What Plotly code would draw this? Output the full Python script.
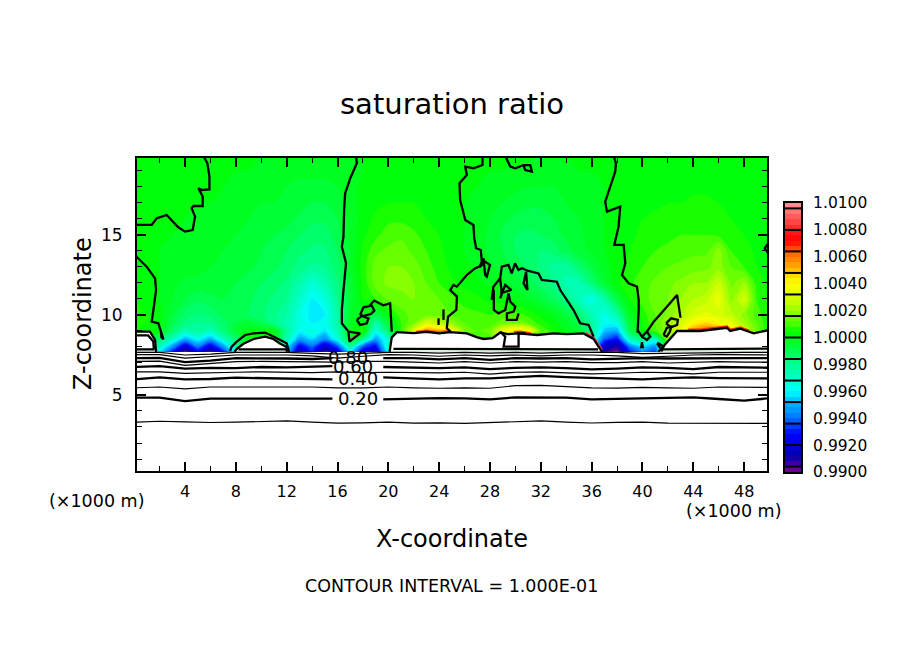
import plotly.graph_objects as go

W, H = 904, 654
# ---------- field: saturation ratio, rows in units of 1e-4 about 1.0 ----------
grid_x = list(range(51))
grid_z = [7.7, 8, 8.5, 9, 9.5, 10, 11, 12, 13, 14, 15, 16, 17, 18, 19, 20]
S_UNIT = 1e-4
s_z077 = [-5,-5,-40,-70,-95,-75,-92,-72,-35,0,0,0,-45,-85,-70,-92,-80,-40,-78,-85,-35,0,0,0,0,0,0,0,0,0,0,0,0,0,0,0,-45,-90,-99,-70,-55,-65,0,0,0,0,0,0,0,0,0]
s_z080 = [0,0,-30,-55,-82,-60,-80,-55,-25,0,0,0,-40,-76,-62,-84,-66,-25,-65,-75,-30,0,0,0,0,0,0,0,0,0,0,0,0,0,0,0,-40,-82,-92,-60,-45,-55,0,0,0,0,0,0,0,0,0]
s_z085 = [0,0,-15,-28,-50,-38,-50,-30,-15,0,0,0,-25,-52,-44,-56,-34,-5,-18,-52,-32,10,20,40,40,20,10,10,10,30,30,10,10,10,0,0,-26,-62,-72,-28,-18,-30,20,20,40,60,70,60,40,20,10]
s_z090 = [4,3,0,-14,-26,-22,-28,-16,-6,0,0,0,-22,-38,-34,-42,-28,0,6,-36,-14,8,30,55,50,40,16,12,14,35,45,40,12,6,0,-6,-20,-46,-50,-10,2,10,18,34,55,65,58,45,30,14,4]
s_z095 = [5,4,2,-10,-17,-21,-19,-14,-8,-6,-10,-18,-26,-34,-40,-38,-24,-2,3,-24,-6,8,16,30,26,18,12,10,10,14,16,12,6,2,-3,-10,-22,-38,-35,-6,4,12,20,30,40,45,40,34,22,12,4]
s_z100 = [5,4,2,-7,-14,-17,-15,-11,-10,-12,-15,-19,-24,-35,-42,-40,-24,-4,0,-10,2,10,14,14,14,12,10,9,8,10,10,7,3,-1,-7,-15,-26,-36,-25,-2,6,12,17,24,30,34,30,26,18,10,4]
s_z110 = [4,3,0,-4,-8,-11,-9,-8,-9,-11,-14,-17,-20,-30,-40,-34,-20,-6,4,8,13,15,16,14,12,9,6,5,3,2,0,-3,-7,-12,-18,-28,-36,-24,-8,4,10,14,16,20,24,26,35,18,30,8,3]
s_z120 = [3,2,0,-3,-5,-5,-6,-6,-8,-10,-12,-14,-17,-25,-32,-26,-17,-6,5,14,17,17,16,12,8,5,3,1,-1,-3,-6,-10,-14,-19,-26,-26,-16,-5,3,7,10,13,15,17,20,20,28,15,20,6,3]
s_z130 = [2,1,0,-1,-2,-3,-4,-5,-6,-7,-9,-11,-14,-18,-21,-20,-14,-4,6,14,16,16,14,10,6,3,1,-1,-3,-6,-9,-13,-17,-22,-22,-15,-8,-2,3,5,8,10,12,13,14,15,18,12,8,4,2]
s_z140 = [1,1,0,-1,-2,-2,-3,-4,-5,-6,-8,-10,-12,-15,-17,-17,-12,-4,5,11,13,14,11,8,5,2,0,-2,-5,-8,-12,-15,-16,-14,-10,-6,-3,0,2,4,6,8,9,10,11,11,18,8,6,3,1]
s_z150 = [0,0,0,0,-1,-1,-2,-3,-4,-5,-7,-8,-9,-12,-14,-14,-10,-3,3,7,10,11,9,6,4,2,0,-2,-5,-9,-12,-13,-12,-10,-7,-5,-2,0,1,3,5,6,7,8,8,8,7,6,4,2,1]
s_z160 = [0,0,0,0,0,-1,-1,-2,-3,-4,-5,-6,-7,-9,-11,-11,-8,-3,2,5,7,7,6,4,3,1,0,-2,-4,-7,-9,-10,-10,-8,-6,-4,-2,0,1,2,4,5,6,6,6,6,5,4,3,1,0]
s_z170 = [0,0,0,0,0,0,0,-1,-2,-3,-4,-4,-5,-6,-8,-8,-6,-2,1,3,4,4,4,3,2,1,0,-1,-2,-4,-6,-7,-7,-6,-4,-3,-1,0,0,1,2,3,4,4,5,5,4,3,2,1,0]
s_z180 = [0,0,0,0,0,0,0,0,-1,-2,-3,-3,-4,-5,-5,-5,-4,-1,1,2,2,3,3,2,1,1,0,0,-1,-2,-3,-4,-4,-4,-3,-2,-1,0,0,0,1,2,2,3,3,3,3,2,2,1,0]
s_z190 = [0,0,0,0,0,0,0,0,0,0,-1,-1,-2,-3,-3,-3,-3,-1,0,1,1,1,1,1,0,0,0,0,0,0,-1,-1,-1,-1,-1,0,0,0,0,0,0,0,0,1,1,1,1,1,1,0,0]
s_z200 = [0]*51
s_rows = [s_z077, s_z080, s_z085, s_z090, s_z095, s_z100, s_z110, s_z120, s_z130, s_z140,
          s_z150, s_z160, s_z170, s_z180, s_z190, s_z200]

# ---------- colour ramp ----------
color_values = [0.9900,0.9904,0.9912,0.9920,0.9928,0.9936,0.9944,0.9952,0.9960,0.9968,0.9976,0.9984,0.9992,1.0004,1.0010,1.0016,1.0024,1.0032,1.0040,1.0048,1.0056,1.0064,1.0072,1.0080,1.0088,1.0096,1.0100]
color_list = ["#82008f","#5000a0","#0000aa","#0000e0","#0000ff","#0050ff","#0090ff","#00b4ff","#00ffff","#00ffd0","#00ffa8","#00ff78","#00ff40","#00ff00","#48ff00","#78ff00","#b4ff00","#e0ff00","#ffff00","#ffcc00","#ff9000","#ff6000","#ff0000","#ff2020","#ff5050","#ff8080","#ff9a9a"]
cmin, cmax = 0.99, 1.01
scale = [[(v - cmin) / (cmax - cmin), c] for v, c in zip(color_values, color_list)]

bar_levels = [0.9902 + 0.0004 * i for i in range(50)]
bar_separators = [0.9904,0.9920,0.9936,0.9952,0.9968,0.9984,1.0000,1.0016,1.0032,1.0048,1.0064,1.0080,1.0096]
bar_ticks = [0.990,0.992,0.994,0.996,0.998,1.000,1.002,1.004,1.006,1.008,1.010]
bar_labels = ["0.9900","0.9920","0.9940","0.9960","0.9980","1.0000","1.0020","1.0040","1.0060","1.0080","1.0100"]

# ---------- white cloud outlines (x km, z km) ----------
blob1_x = [0.1,1.24,1.64,1.72,0.1]
blob1_z = [8.96,8.96,8.44,7.7,7.7]
blob2_x = [7.9,8.1,8.6,9.4,10.3,10.95,11.5,12.0,12.0]
blob2_z = [7.7,7.9,8.2,8.5,8.65,8.5,8.2,8.0,7.7]
blob3_x = [20.1,20.27,20.67,22,23,24,24.87,26.18,27.0,27.5,28.2,28.8,29.4,30.25,31.7,33,34.06,35.36,36.15,36.81]
blob3_z = [7.7,8.6,8.93,8.87,8.95,8.85,8.93,8.85,8.6,8.5,8.55,8.9,8.8,8.85,8.75,8.85,8.8,8.85,8.5,7.7]
blob4_x = [41.27,42.19,42.72,44.55,46.65,46.9,47.7,48.75,49.9,49.9]
blob4_z = [7.7,8.54,9.0,9.0,9.2,9.0,9.15,8.85,9.05,7.7]

# thin warm rims on the cloud tops
rim_a_x = [22.2,23,24,24.8]
rim_a_z = [8.95,9.02,8.93,9.0]
rim_b_x = [29.9,30.4,31.2]
rim_b_z = [8.92,8.95,8.85]
rim_c_x = [43.6,44.55,46.65,46.9,47.7,48.4]
rim_c_z = [9.07,9.07,9.27,9.07,9.22,9.0]
rim_d_x = [35.5,36.2,36.8]
rim_d_z = [8.9,8.55,7.8]
rim_e_x = [17.0,17.7]
rim_e_z = [8.45,8.8]
rims = [(rim_a_x,rim_a_z,"#ff6000"),(rim_b_x,rim_b_z,"#ff3000"),(rim_c_x,rim_c_z,"#ff3000"),(rim_d_x,rim_d_z,"#ff5050"),(rim_e_x,rim_e_z,"#ff5050")]

# ---------- saturated contour (1.0) pieces ----------
c_a_x = [5.44,5.76,5.92,5.92,5.31,5.05,5.39,5.39,4.66,4.52,4.79,4.6,4.0,3.47,2.56,1.77,1.38,0.1]
c_a_z = [19.94,19.48,18.65,17.85,17.81,17.92,17.4,16.81,16.81,16.67,16.15,15.31,15.21,15.48,16.25,16.04,15.63,15.63]
c_b_x = [0.1,0.98,1.64,1.72,1.51,1.38,1.9,2.1,2.2,2.3,2.15,2.1]
c_b_z = [13.7,13.02,12.29,11.56,10.31,9.58,9.48,8.96,8.6,8.48,8.6,8.96]
c_c_x = [17.46,17.52,17.0,16.6,16.52,16.47,16.34,16.67,16.47,16.34,16.34,16.86,16.94,17.78,16.86]
c_c_z = [19.94,19.48,18.54,17.6,16.56,14.9,14.27,13.23,11.56,10.31,9.48,8.96,8.33,8.85,8.96]
c_d_x = [18.5,18.88,19.6,20.14,20.27]
c_d_z = [10.56,10.9,10.6,10.73,8.96]
oval1_x = [17.78,18.04,18.7,18.9,18.62,18.04,17.78]
oval1_z = [10.0,10.48,10.58,10.27,10.06,9.94,10.0]
oval2_x = [17.52,17.91,18.44,18.3,17.78,17.52]
oval2_z = [9.69,9.94,9.79,9.48,9.38,9.69]
c_e1_x = [24.34,24.34]
c_e1_z = [10.35,9.69]
c_e2_x = [23.95,23.95]
c_e2_z = [9.79,9.38]
c_f_x = [27.41,27.41,26.7,26.05,26.18,25.6,25.65,26.05,26.7,26.76,26.91,27.28,27.36,27.18,26.83,26.18,25.39,25.13,24.87,25.4,25.35,24.7,24.6,24.9]
c_f_z = [19.94,19.37,19.17,19.27,18.75,18.23,17.19,15.94,15.63,14.8,14.17,14.06,13.33,13.02,12.92,12.5,11.77,11.88,11.56,11.15,10.31,9.9,9.17,8.96]
c_g_x = [27.2,27.49,27.62,27.75,28.0,27.62,27.2]
c_g_z = [13.0,13.54,12.5,12.4,13.13,13.33,13.0]
c_h_x = [29.2,29.6,29.99,30.64,31.17,31.3,30.77,30.64]
c_h_z = [19.94,19.27,19.17,19.37,19.37,18.96,19.06,19.37]
c_i_x = [28.13,28.27,28.8,28.93,29.45,29.71,29.97,30.24,30.5,30.95,31.82,32.08,33.26,33.53,34.58,35.1,35.76,36.15]
c_i_z = [10.94,11.77,12.29,13.02,13.13,12.6,13.23,12.81,12.92,12.77,12.6,12.19,12.08,11.56,10.31,9.48,9.38,8.65]
c_i2_x = [28.8,28.93,28.8,29.2,29.68,29.2,28.8]
c_i2_z = [12.29,11.35,11.04,11.88,11.56,11.46,11.35]
c_i3_x = [30.84,30.95,30.64,30.84]
c_i3_z = [12.7,11.56,11.98,12.7]
c_cl_x = [28.3,28.3,28.67,29.2,29.46,29.6,29.99,29.87,29.33,29.33,30.1,30.25]
c_cl_z = [11.56,10.31,10.1,10.31,11.35,10.83,10.52,10.21,10.1,9.69,9.69,10.1]
c_cb_x = [28.8,29.2,29.07,30.25,30.25,30.8]
c_cb_z = [8.96,8.65,8.02,8.02,8.85,8.85]
c_j_x = [37.73,37.91,37.86,37.47,37.07,37.2,38.25,38.12,37.78,38.52,38.65,38.39,38.91,39.57,39.7,39.7,39.62,39.7,39.96,40.35,40.61,40.35,39.96,39.7]
c_j_z = [19.94,19.48,18.96,18.02,17.08,16.46,16.77,15.52,14.38,14.38,13.23,12.5,11.98,11.77,10.94,10.31,8.96,8.96,8.65,8.96,8.65,8.44,8.65,8.96]
c_k_x = [40.35,40.9,41.8,42.72,42.98,42.9]
c_k_z = [8.96,9.6,10.4,11.25,9.9,9.9]
oval3_x = [41.86,42.26,42.78,42.73,42.26,41.86]
oval3_z = [9.48,9.79,9.69,9.38,9.23,9.48]
oval4_x = [41.66,41.92,42.26,42.16,41.92,41.66]
oval4_z = [8.75,9.2,9.27,8.96,8.65,8.75]
c_l_x = [41.14,41.27,41.66,41.53,41.14]
c_l_z = [8.23,8.23,8.02,7.8,8.23]
c_m_x = [49.9,49.62,49.9]
c_m_z = [14.48,14.17,13.85]
drop1_x = [39.96,39.9,40.02,39.96]
drop1_z = [8.3,8.0,8.0,8.3]
inner1_x = [0.1,1.1,1.5,1.55]
inner1_z = [8.72,8.72,8.35,7.85]
upper_pieces = [(c_a_x,c_a_z),(c_b_x,c_b_z),(c_c_x,c_c_z),(c_d_x,c_d_z),(oval1_x,oval1_z),(oval2_x,oval2_z),
                (c_e1_x,c_e1_z),(c_e2_x,c_e2_z),(c_f_x,c_f_z),(c_g_x,c_g_z),(c_h_x,c_h_z),(c_i_x,c_i_z),
                (c_i2_x,c_i2_z),(c_i3_x,c_i3_z),(c_cl_x,c_cl_z),(c_cb_x,c_cb_z),(c_j_x,c_j_z),(c_k_x,c_k_z),
                (oval3_x,oval3_z),(oval4_x,oval4_z),(c_l_x,c_l_z),(c_m_x,c_m_z),(drop1_x,drop1_z),
                (blob1_x[:4],blob1_z[:4]),(inner1_x,inner1_z),(blob3_x,blob3_z),(blob4_x[:9],blob4_z[:9]),
                ]
outer2_x = [7.54,7.67,8.07,8.73,9.38,10.3,10.95,11.48,12.0,12.19]
outer2_z = [7.75,8.02,8.33,8.75,8.85,8.9,8.65,8.44,8.23,7.7]
upper_pieces.append((outer2_x,outer2_z))
upper_pieces.append((blob2_x,blob2_z))
base_a_x = [0.1,1.6,None,8.2,12.0,None,20.4,27.0,28.0,36.5,None,41.6,49.9]
base_a_z = [7.85,7.85,None,7.85,7.85,None,7.88,7.85,7.85,7.85,None,7.85,7.9]
upper_pieces.append((base_a_x,base_a_z))

# ---------- lower contours below cloud base ----------
thick_x = [0.1,2,4,6,8,10,12,14,15.6,None,19.6,22,24,26,28,30,32,34,36,38,40,42,44,46,48,49.9]
lev020 = [4.83,4.83,4.62,4.77,4.77,4.77,4.77,4.77,4.77,None,4.73,4.78,4.81,4.79,4.73,4.85,4.85,4.83,4.73,4.75,4.78,4.8,4.85,4.75,4.65,4.79]
lev040 = [5.98,6.1,5.98,6.0,6.08,6.05,6.04,6.0,5.98,None,6.1,6.04,5.98,6.04,6.04,6.12,6.19,6.12,6.08,6.02,5.98,6.06,6.1,6.06,6.04,6.04]
lev060 = [6.75,6.8,6.65,6.7,6.68,6.75,6.72,6.75,6.8,None,6.75,6.72,6.68,6.72,6.62,6.7,6.72,6.68,6.6,6.65,6.72,6.7,6.62,6.75,6.7,6.7]
lev080 = [7.3,7.32,7.05,7.15,7.3,7.3,7.28,7.25,7.3,None,7.3,7.3,7.22,7.3,7.2,7.3,7.28,7.3,7.22,7.25,7.3,7.28,7.3,7.32,7.3,7.3]
thin_x = [0.1,2,4,6,8,10,12,14,16,18,20,22,24,26,28,30,32,34,36,38,40,42,44,46,48,49.9]
lev010 = [3.30,3.36,3.32,3.28,3.30,3.34,3.38,3.30,3.24,3.26,3.30,3.24,3.26,3.22,3.28,3.34,3.38,3.30,3.25,3.29,3.30,3.24,3.24,3.25,3.22,3.22]
lev030 = [5.45,5.5,5.38,5.5,5.5,5.48,5.5,5.5,5.45,5.45,5.5,5.45,5.42,5.45,5.42,5.58,5.6,5.52,5.45,5.43,5.48,5.45,5.42,5.5,5.48,5.48]
lev050 = [6.45,6.45,6.35,6.4,6.42,6.45,6.42,6.4,6.45,6.4,6.42,6.4,6.38,6.42,6.3,6.42,6.45,6.38,6.32,6.36,6.42,6.4,6.32,6.42,6.4,6.42]
lev070 = [7.1,7.12,6.85,6.98,7.08,7.1,7.08,7.05,7.05,7.1,7.1,7.05,7.0,7.08,7.0,7.08,7.05,7.08,7.02,7.02,7.08,7.0,7.05,7.08,7.05,7.05]
lev090 = [7.52,7.52,7.3,7.4,7.5,7.5,7.5,7.45,7.3,7.42,7.52,7.5,7.42,7.5,7.45,7.5,7.45,7.5,7.5,7.45,7.35,7.42,7.5,7.52,7.5,7.5]
lev095 = [7.66,7.66,7.5,7.55,7.66,7.66,7.66,7.6,7.55,7.6,7.66,7.66,7.62,7.66,7.62,7.66,7.62,7.66,7.68,7.66,7.58,7.6,7.66,7.66,7.66,7.66]
thick_levels = [lev020, lev040, lev060, lev080]
thin_levels = [lev010, lev030, lev050, lev070, lev090, lev095]

label_text = ["0.20","0.40","0.80","0.60"]
label_x = [17.6,17.6,16.8,17.2]
label_z = [4.81,6.06,7.37,6.81]

tick_x = [4,8,12,16,20,24,28,32,36,40,44,48]
tick_z = [5,10,15]

# ---------- build ----------
fig = go.Figure()
fig.add_trace(go.Contour(
    x=grid_x, y=grid_z, z=[[1 + v * S_UNIT for v in r] for r in s_rows],
    zmin=cmin, zmax=cmax, colorscale=scale, showscale=False, autocontour=False,
    contours=dict(start=cmin, end=cmax, size=0.0004, coloring="fill", showlines=False),
    line=dict(width=0), hoverinfo="skip"))
for bx, bz in [(blob1_x,blob1_z),(blob2_x,blob2_z),(blob3_x,blob3_z),(blob4_x,blob4_z)]:
    fig.add_trace(go.Scatter(x=bx, y=bz, mode="none", fill="toself", fillcolor="white", hoverinfo="skip"))
for rx, rz, rc in rims:
    fig.add_trace(go.Scatter(x=rx, y=rz, mode="lines", line=dict(color=rc, width=2.5), hoverinfo="skip"))
for px_, pz_ in upper_pieces:
    fig.add_trace(go.Scatter(x=px_, y=pz_, mode="lines", line=dict(color="black", width=2.3), hoverinfo="skip"))
for lv in thick_levels:
    fig.add_trace(go.Scatter(x=thick_x, y=lv, mode="lines", line=dict(color="black", width=2.3), hoverinfo="skip"))
for lv in thin_levels:
    fig.add_trace(go.Scatter(x=thin_x, y=lv, mode="lines", line=dict(color="black", width=1.2), hoverinfo="skip"))
# colour bar as its own small panel
fig.add_trace(go.Heatmap(x=[0.5], y=bar_levels, z=[[v] for v in bar_levels], xaxis="x2", yaxis="y2",
                         zmin=cmin, zmax=cmax, colorscale=scale, showscale=False, hoverinfo="skip"))
sep_x, sep_y = [], []
for s in bar_separators:
    sep_x += [0, 1, None]
    sep_y += [s, s, None]
fig.add_trace(go.Scatter(x=sep_x, y=sep_y, mode="lines", xaxis="x2", yaxis="y2",
                         line=dict(color="black", width=2), hoverinfo="skip"))

font = "DejaVu Sans"
ann = []
def note(text, px, py, size, angle=0):
    ann.append(dict(text=text, xref="paper", yref="paper", x=px / W, y=1 - py / H, showarrow=False,
                    font=dict(family=font, size=size, color="black"), textangle=angle,
                    xanchor="center", yanchor="middle"))
note("saturation ratio", 452, 104, 29)
note("X-coordinate", 452, 539, 24)
note("Z-coordinate", 83, 314, 24, -90)
note("(×1000 m)", 96, 501, 17.5)
note("(×1000 m)", 733, 511, 17.5)
note("CONTOUR INTERVAL = 1.000E-01", 451, 586, 17.5)
for t, lx, lz in zip(label_text, label_x, label_z):
    ann.append(dict(text=t, x=lx, y=lz, xref="x", yref="y", showarrow=False,
                    font=dict(family=font, size=18, color="black")))

fig.update_layout(
    width=W, height=H, margin=dict(l=0, r=0, t=0, b=0, pad=0, autoexpand=False), showlegend=False,
    paper_bgcolor="white", plot_bgcolor="white", annotations=ann,
    xaxis=dict(domain=[137/W, 767/W], range=[0.22, 49.8], tickmode="array", tickvals=tick_x,
               ticks="inside", ticklen=9, tickwidth=1.5, tickcolor="black", mirror="allticks",
               showline=True, linecolor="black", linewidth=2, showgrid=False, zeroline=False,
               minor=dict(dtick=2, tick0=0, ticks="inside", ticklen=5, tickwidth=1, tickcolor="black", showgrid=False),
               tickfont=dict(family=font, size=16, color="black"), ticklabelstandoff=5, anchor="y"),
    yaxis=dict(domain=[1-471/H, 1-158/H], range=[0.25, 19.81], tickmode="array", tickvals=tick_z,
               ticks="inside", ticklen=9, tickwidth=1.5, tickcolor="black", mirror="allticks",
               showline=True, linecolor="black", linewidth=2, showgrid=False, zeroline=False,
               minor=dict(dtick=1, tick0=0, ticks="inside", ticklen=5, tickwidth=1, tickcolor="black", showgrid=False),
               tickfont=dict(family=font, size=17, color="black"), ticklabelstandoff=9, anchor="x"),
    xaxis2=dict(domain=[785/W, 801/W], range=[0, 1], showticklabels=False, ticks="", showgrid=False, zeroline=False,
                showline=True, linecolor="black", linewidth=2, mirror=True, anchor="y2"),
    yaxis2=dict(domain=[1-472/H, 1-203/H], range=[cmin, cmax], side="right", tickmode="array",
                tickvals=bar_ticks, ticktext=bar_labels, ticks="", showgrid=False, zeroline=False,
                showline=True, linecolor="black", linewidth=2, mirror=True, anchor="x2",
                tickfont=dict(family=font, size=15.5, color="black"), ticklabelstandoff=7),
)
fig.write_html("out.html", post_script="document.body.style.margin='0';", config={"displayModeBar": False})
